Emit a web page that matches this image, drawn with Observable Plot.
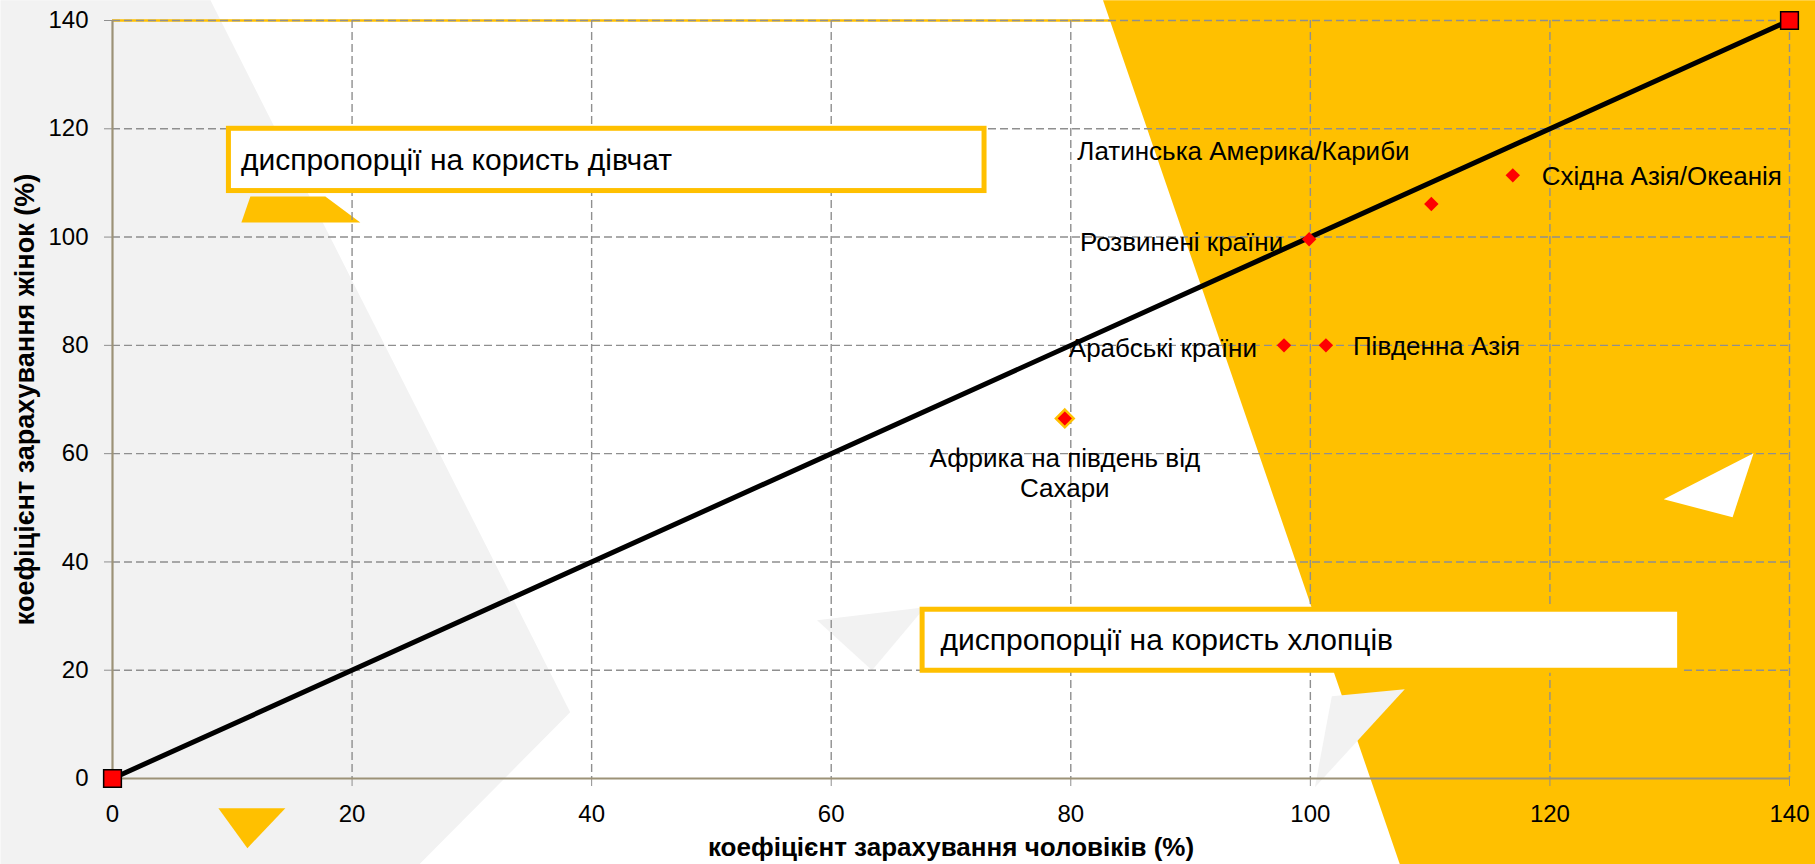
<!DOCTYPE html>
<html>
<head>
<meta charset="utf-8">
<script src="https://cdn.jsdelivr.net/npm/d3@7"></script>
<script src="https://cdn.jsdelivr.net/npm/@observablehq/plot@0.6"></script>
<style>
  html, body { margin: 0; padding: 0; background: #ffffff; }
  #chart svg { display: block; }
</style>
</head>
<body>
<div id="chart"></div>
<script>
// ---------- data ----------
const regions = [
  "Латинська Америка/Кариби",
  "Східна Азія/Океанія",
  "Розвинені країни",
  "Арабські країни",
  "Південна Азія",
  "Африка на південь від\nСахари"
];
const maleEnrolment   = [110.1, 116.9, 99.9, 97.8, 101.3, 79.5];
const femaleEnrolment = [106.1, 111.4, 99.6, 80.0, 80.0, 66.5];

const parityX = [0, 140];
const parityY = [0, 140];

const xTicks = [0, 20, 40, 60, 80, 100, 120, 140];
const yTicks = [0, 20, 40, 60, 80, 100, 120, 140];

const calloutTexts = ["диспропорції на користь дівчат", "диспропорції на користь хлопців"];
const xTitle = "коефіцієнт зарахування чоловіків (%)";
const yTitle = "коефіцієнт зарахування жінок (%)";

// ---------- layout / style (not data) ----------
const FONT = "'Liberation Sans', Arial, sans-serif";
const YELLOW = "#FFC000";
const LIGHT = "#F2F2F2";

// callout boxes in chart units
const calloutBoxes = [
  {x1: 9.72, x2: 72.8, y1: 108.5, y2: 120.0, pad: 12},
  {x1: 67.63, x2: 130.87, y1: 19.9, y2: 31.17, pad: 18}
].map((b, i) => ({...b, text: calloutTexts[i]}));

// decorative background shapes in chart units
const decor = [
  {fill: LIGHT,  pts: [[-9.35, 143.72], [8.18, 143.72], [38.21, 12.25], [25.62, -15.84], [-9.35, -15.84]]},
  {fill: YELLOW, pts: [[82.69, 143.72], [142.2, 143.72], [142.2, -15.84], [107.47, -15.84]]},
  {fill: "#FFFFFF", pts: [[137.0, 60.07], [129.5, 51.57], [135.25, 48.25]]},
  {fill: LIGHT,  pts: [[58.82, 29.23], [67.83, 31.63], [63.41, 20.0]]},
  {fill: LIGHT,  pts: [[101.79, 15.2], [107.88, 16.5], [100.38, -1.6]]},
  {fill: YELLOW, pts: [[11.51, 107.5], [17.77, 107.5], [20.69, 102.7], [10.76, 102.7]]},
  {fill: YELLOW, pts: [[8.84, -5.48], [14.43, -5.48], [11.26, -12.87]]}
];

const labelPlacement = [
  {dx: -354, dy: -54, textAnchor: "start"},
  {dx: 29, dy: 0, textAnchor: "start"},
  {dx: -26, dy: 2, textAnchor: "end"},
  {dx: -27, dy: 2, textAnchor: "end"},
  {dx: 27, dy: 0, textAnchor: "start"},
  {dx: 0, dy: 54, textAnchor: "middle"}
];

// ---------- build ----------
const points = regions.map((name, i) => ({name, x: maleEnrolment[i], y: femaleEnrolment[i]}));
const parity = parityX.map((x, i) => ({x, y: parityY[i]}));

const marks = [];
for (const s of decor) {
  marks.push(Plot.line(s.pts, {x: d => d[0], y: d => d[1], fill: s.fill, stroke: "none", curve: "linear-closed"}));
}
marks.push(Plot.ruleY([140], {stroke: YELLOW, strokeWidth: 2.5}));
marks.push(Plot.gridX(xTicks.filter(t => t > 0), {stroke: "#8f8f8f", strokeOpacity: 1, strokeWidth: 1.4, strokeDasharray: "8,4"}));
marks.push(Plot.gridY(yTicks.filter(t => t > 0), {stroke: "#8f8f8f", strokeOpacity: 1, strokeWidth: 1.4, strokeDasharray: "8,4"}));

marks.push(Plot.rect(calloutBoxes, {x1: "x1", x2: "x2", y1: "y1", y2: "y2", fill: "white", stroke: YELLOW, strokeWidth: 5}));
calloutBoxes.forEach(b => {
  marks.push(Plot.text([b], {x: "x1", y: d => (d.y1 + d.y2) / 2, text: "text", textAnchor: "start", dx: b.pad, fontSize: 30, fill: "black"}));
});

marks.push(Plot.axisY({ticks: yTicks, tickSize: 8, tickPadding: 16, fontSize: 24, stroke: "#8f8f8f", fill: "black", label: null}));
marks.push(Plot.axisX({ticks: xTicks, tickSize: 8, tickPadding: 18, fontSize: 24, stroke: "#8f8f8f", fill: "black", label: null}));
marks.push(Plot.ruleX([0], {stroke: "#9C9277", strokeWidth: 2.2}));
marks.push(Plot.ruleY([0], {stroke: "#9C9277", strokeWidth: 2.2}));

marks.push(Plot.line(parity, {x: "x", y: "y", stroke: "black", strokeWidth: 5}));
marks.push(Plot.dot(parity, {x: "x", y: "y", symbol: "square", r: 10, fill: "#FF0000", stroke: "black", strokeWidth: 1.5}));

points.forEach((p, i) => {
  const last = i === points.length - 1;
  marks.push(Plot.dot([p], {x: "x", y: "y", symbol: "diamond2", r: last ? 8 : 6.5, fill: "#FF0000",
    stroke: last ? YELLOW : "none", strokeWidth: last ? 2.5 : 0}));
  const lp = labelPlacement[i];
  marks.push(Plot.text([p], {x: "x", y: "y", text: "name", dx: lp.dx, dy: lp.dy, textAnchor: lp.textAnchor,
    lineAnchor: "middle", lineHeight: 1.15, fontSize: 26, fill: "black"}));
});

marks.push(Plot.text([yTitle], {frameAnchor: "left", rotate: -90, dx: -87, textAnchor: "middle", lineAnchor: "middle",
  fontSize: 27, fontWeight: "bold", fill: "black"}));
marks.push(Plot.text([xTitle], {frameAnchor: "bottom", dy: 69, textAnchor: "middle", lineAnchor: "middle",
  fontSize: 26, fontWeight: "bold", fill: "black"}));

const chart = Plot.plot({
  width: 1815,
  height: 864,
  marginLeft: 112,
  marginRight: 26,
  marginTop: 20,
  marginBottom: 86,
  style: {fontFamily: FONT, fontSize: "24px", background: "white", overflow: "hidden"},
  x: {domain: [0, 140]},
  y: {domain: [0, 140]},
  marks
});
document.getElementById("chart").append(chart);
</script>
</body>
</html>
